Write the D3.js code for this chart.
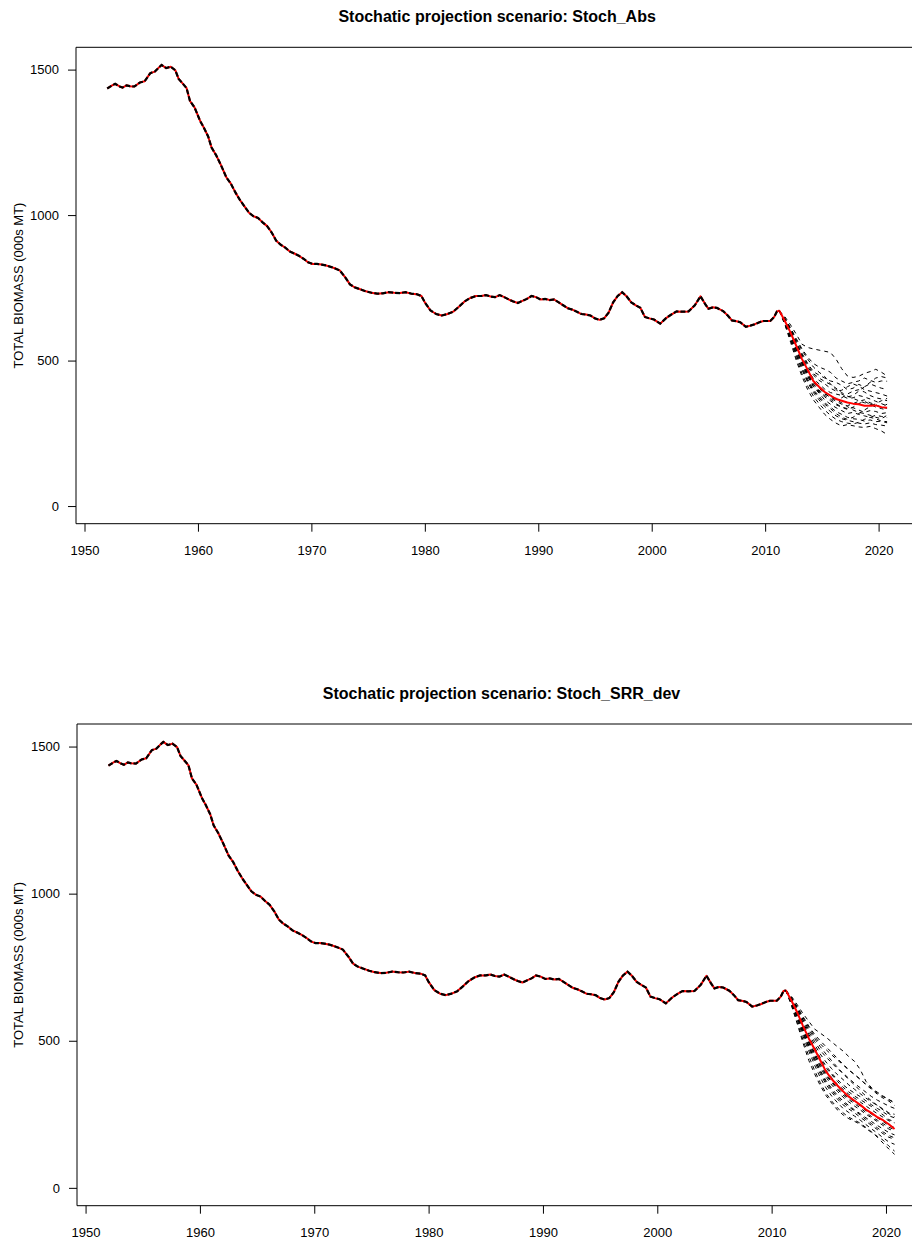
<!DOCTYPE html>
<html>
<head>
<meta charset="utf-8">
<script src="https://cdn.jsdelivr.net/npm/d3@7"></script>
<style>
  body { margin: 0; background: #fff; }
  text { font-family: "Liberation Sans", Arial, sans-serif; }
</style>
</head>
<body>
<svg id="chart" width="912" height="1240"></svg>
<script>
// historical biomass (shared by both scenarios)
const histYears = [1952.0,1952.4,1952.7,1953.1,1953.35,1953.7,1954.0,1954.4,1954.9,1955.3,1955.8,1956.2,1956.5,1956.8,1957.2,1957.6,1958.0,1958.3,1958.7,1959.0,
  1959.3,1959.7,1960.2,1960.5,1960.9,1961.2,1961.6,1962.0,1962.5,1962.9,1963.3,1963.7,1964.1,1964.5,1964.9,1965.3,1965.7,1966.1,1966.5,1966.9,
  1967.3,1967.7,1968.1,1968.5,1968.9,1969.3,1969.7,1970.1,1970.5,1970.9,1971.3,1971.7,1972.0,1972.5,1973.0,1973.4,1973.8,1974.3,1974.8,1975.3,
  1975.8,1976.3,1976.8,1977.3,1977.8,1978.3,1978.8,1979.3,1979.7,1980.0,1980.5,1981.0,1981.5,1982.0,1982.5,1983.0,1983.5,1984.0,1984.5,1985.0,
  1985.4,1985.8,1986.2,1986.6,1987.0,1987.4,1987.8,1988.2,1988.6,1989.0,1989.4,1989.8,1990.2,1990.6,1991.0,1991.4,1991.8,1992.2,1992.6,1993.0,
  1993.4,1993.8,1994.2,1994.6,1995.0,1995.4,1995.8,1996.2,1996.6,1997.0,1997.4,1997.8,1998.2,1998.6,1999.0,1999.4,1999.8,2000.2,2000.75,2001.3,
  2001.8,2002.2,2002.7,2003.25,2003.8,2004.3,2004.7,2005.0,2005.4,2005.75,2006.3,2006.7,2007.07,2007.5,2007.8,2008.3,2008.7,2009.1,2009.5,2009.86,
  2010.45,2010.8,2011.04,2011.25];
const histBiomass = [1435,1445,1451,1442,1438,1446,1443,1442,1456,1460,1488,1493,1505,1516,1505,1510,1498,1468,1450,1436,
  1392,1370,1323,1302,1270,1232,1206,1174,1130,1108,1078,1052,1030,1008,996,990,975,962,940,912,
  898,888,875,868,860,850,838,832,832,830,827,822,818,810,785,762,752,745,738,733,
  730,731,735,733,732,735,730,728,722,700,672,660,655,660,668,685,703,715,722,722,
  725,720,718,725,718,710,703,698,705,712,722,718,710,712,708,710,700,690,680,675,
  668,660,658,655,645,640,645,665,700,722,735,720,700,690,681,650,645,641,627,647,
  660,669,668,669,690,721,695,678,683,681,670,655,638,635,632,616,620,625,632,636,
  636,650,669,671];

// projection period
const projYears = [2011.25,2011.75,2012.25,2012.75,2013.25,2013.75,2014.25,2014.75,2015.25,2015.75,
  2016.25,2016.75,2017.25,2017.75,2018.25,2018.75,2019.25,2019.75,2020.25,2020.75];

// scenario Stoch_Abs
const absMedian = [671,635,595,550,505,468,430,410,392,380,368,362,356,352,350,345,345,346,340,338];
const absRuns = [
  [671,650,622,590,556,545,540,536,532,528,505,472,447,442,446,456,462,470,460,447],
  [671,645,612,575,540,512,490,478,470,460,440,430,420,425,430,440,432,425,430,429],
  [671,642,605,565,525,490,462,450,440,430,425,415,400,405,418,410,420,412,405,401],
  [671,640,600,558,515,478,450,432,420,405,395,398,410,420,412,400,395,390,385,378],
  [671,638,598,552,508,470,438,420,402,390,385,380,370,372,380,375,368,360,352,344],
  [671,636,594,546,500,460,425,405,388,372,360,350,345,352,360,365,355,348,340,336],
  [671,634,590,540,495,452,418,395,375,362,348,340,335,338,330,322,328,325,318,321],
  [671,632,586,535,488,445,410,388,365,350,338,328,318,322,315,310,305,312,308,304],
  [671,630,580,528,480,436,400,378,355,340,325,315,305,300,298,292,296,290,292,286],
  [671,626,572,518,468,425,390,365,342,325,310,300,295,290,285,282,286,280,278,275],
  [671,622,562,500,445,400,365,340,315,298,285,275,280,276,272,270,274,266,258,246],
  [671,644,610,570,535,505,478,460,445,420,400,385,375,380,395,410,425,440,445,440],
  [671,637,596,550,505,465,432,412,395,378,370,372,385,395,400,392,380,372,368,362],
  [671,633,588,538,490,448,412,392,380,368,352,340,332,340,352,360,350,340,335,330],
  [671,628,576,522,472,430,396,372,350,335,318,305,298,305,318,330,342,352,362,370],
  [671,624,568,510,455,412,378,352,330,312,298,290,285,282,288,298,305,300,292,290],
  [671,641,603,560,520,485,455,440,428,418,405,390,378,370,362,355,350,345,340,350],
  [671,635,592,542,498,455,420,398,385,375,365,355,342,330,322,318,312,305,300,312]
];

// scenario Stoch_SRR_dev
const srrMedian = [671,635,595,550,508,472,434,396,370,348,328,310,296,282,266,254,240,230,216,200];
const srrRuns = [
  [671,650,622,592,566,540,526,512,496,480,465,446,430,402,362,340,322,310,300,291],
  [671,645,612,578,545,515,490,470,452,435,418,400,385,370,350,335,318,305,295,280],
  [671,642,606,568,530,498,468,445,425,405,390,372,355,340,325,310,298,288,278,270],
  [671,640,602,562,522,488,455,428,405,385,368,350,335,320,305,292,280,268,255,250],
  [671,638,598,556,515,478,443,415,390,368,350,335,322,310,296,282,270,258,245,238],
  [671,636,594,550,508,470,432,400,375,352,335,318,305,292,278,265,252,240,228,221],
  [671,634,590,545,500,460,422,388,362,340,320,305,292,278,262,250,238,225,212,205],
  [671,632,586,538,492,450,410,376,350,328,308,292,278,265,250,238,225,212,200,192],
  [671,630,582,532,485,442,400,365,338,315,295,280,265,252,238,225,212,200,188,180],
  [671,627,576,524,475,430,388,352,325,302,282,268,255,240,226,212,198,184,172,165],
  [671,624,570,515,465,418,375,340,312,290,270,256,244,230,215,200,186,170,156,148],
  [671,620,562,502,448,400,358,322,295,272,255,240,230,220,205,190,172,152,132,114],
  [671,618,556,492,433,388,348,314,288,265,248,235,226,216,202,188,175,162,142,125],
  [671,643,608,572,538,508,480,455,432,410,388,368,350,330,312,295,280,265,252,242],
  [671,637,596,552,510,472,438,408,385,362,342,326,312,300,288,276,262,248,232,225],
  [671,633,588,540,496,455,416,383,358,335,315,300,286,272,256,242,230,218,206,198],
  [671,629,580,528,480,438,395,360,332,308,290,275,262,248,232,218,204,190,178,170],
  [671,646,615,582,550,522,500,480,460,440,420,402,385,368,352,338,325,312,300,288]
];

const xTicks = [1950, 1960, 1970, 1980, 1990, 2000, 2010, 2020];
const yTicks = [0, 500, 1000, 1500];
const yLabel = "TOTAL BIOMASS (000s MT)";

const panels = [
  { title: "Stochatic projection scenario: Stoch_Abs", median: absMedian, runs: absRuns,
    left: 76, right: 918.3, top: 47.3, bottom: 523.7, titleY: 16 },
  { title: "Stochatic projection scenario: Stoch_SRR_dev", median: srrMedian, runs: srrRuns,
    left: 77, right: 926, top: 724, bottom: 1205.7, titleY: 693 }
];

const svg = d3.select("#chart");

// R style 4% padding on the data range
function pad(lo, hi) {
  const d = (hi - lo) * 0.04;
  return [lo - d, hi + d];
}

panels.forEach((p, i) => {
  const xDom = pad(histYears[0], projYears[projYears.length - 1]);
  const yDom = pad(0, d3.max(histBiomass));

  const x = d3.scaleLinear().domain(xDom).range([p.left, p.right]);
  const y = d3.scaleLinear().domain(yDom).range([p.bottom, p.top]);

  const g = svg.append("g");

  g.append("clipPath").attr("id", "clip" + i)
    .append("rect")
    .attr("x", p.left).attr("y", p.top)
    .attr("width", p.right - p.left).attr("height", p.bottom - p.top);

  const line = d3.line().x(d => x(d[0])).y(d => y(d[1]));
  const hist = histYears.map((yr, k) => [yr, histBiomass[k]]);
  const plot = g.append("g").attr("clip-path", "url(#clip" + i + ")");

  // stochastic runs
  p.runs.forEach(run => {
    plot.append("path")
      .datum(projYears.map((yr, k) => [yr, run[k]]))
      .attr("fill", "none")
      .attr("stroke", "#000")
      .attr("stroke-width", 1)
      .attr("stroke-dasharray", "4,4")
      .attr("d", line);
  });

  // median (red) over the whole period
  plot.append("path")
    .datum(hist.concat(projYears.slice(1).map((yr, k) => [yr, p.median[k + 1]])))
    .attr("fill", "none")
    .attr("stroke", "#ff0000")
    .attr("stroke-width", 2)
    .attr("stroke-linejoin", "round")
    .attr("d", line);

  // the runs overlap in the historical part
  plot.append("path")
    .datum(hist)
    .attr("fill", "none")
    .attr("stroke", "#000")
    .attr("stroke-width", 2.2)
    .attr("stroke-dasharray", "5,2")
    .attr("d", line);

  // box
  g.append("path")
    .attr("d", `M${p.left},${p.top}H${p.right}V${p.bottom}H${p.left}Z`)
    .attr("fill", "none")
    .attr("stroke", "#000")
    .attr("stroke-width", 1);

  const xAxis = g.append("g")
    .attr("transform", `translate(0,${p.bottom})`)
    .call(d3.axisBottom(x).tickValues(xTicks).tickFormat(d3.format("d"))
      .tickSize(8).tickSizeOuter(0).tickPadding(14));
  xAxis.select(".domain").remove();

  const yAxis = g.append("g")
    .attr("transform", `translate(${p.left},0)`)
    .call(d3.axisLeft(y).tickValues(yTicks).tickFormat(d3.format("d"))
      .tickSize(8).tickSizeOuter(0).tickPadding(9));
  yAxis.select(".domain").remove();

  [xAxis, yAxis].forEach(a => {
    a.selectAll("text").attr("font-size", 13).attr("fill", "#000")
      .attr("font-family", "Liberation Sans, Arial, sans-serif");
    a.selectAll("line").attr("stroke", "#000");
  });

  g.append("text")
    .attr("transform", `translate(18,${(p.top + p.bottom) / 2}) rotate(-90)`)
    .attr("text-anchor", "middle")
    .attr("dominant-baseline", "central")
    .attr("font-size", 13)
    .text(yLabel);

  g.append("text")
    .attr("x", (p.left + p.right) / 2)
    .attr("y", p.titleY)
    .attr("text-anchor", "middle")
    .attr("dominant-baseline", "central")
    .attr("font-size", 16)
    .attr("font-weight", "bold")
    .text(p.title);
});
</script>
</body>
</html>
